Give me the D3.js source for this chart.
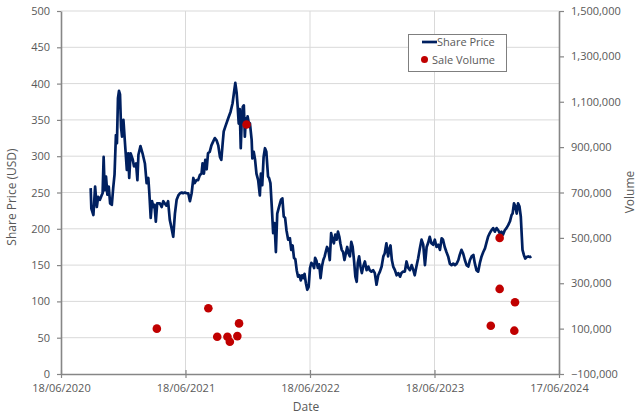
<!DOCTYPE html>
<html>
<head>
<meta charset="utf-8">
<script src="https://cdn.jsdelivr.net/npm/d3@7"></script>
<style>
  html, body { margin: 0; padding: 0; background: #fff; }
  svg { display: block; font-family: "Open Sans", "Noto Sans", sans-serif; }
</style>
</head>
<body>
<svg id="chart" width="640" height="418"></svg>
<script>
// ---------- DATA ----------
const priceDates = [
"2020-09-13","2020-09-15","2020-09-21","2020-09-26","2020-10-01","2020-10-05","2020-10-10","2020-10-15","2020-10-18","2020-10-21",
"2020-10-24","2020-10-28","2020-11-01","2020-11-05","2020-11-09","2020-11-14","2020-11-18","2020-11-22","2020-11-26","2020-11-29",
"2020-12-02","2020-12-05","2020-12-08","2020-12-11","2020-12-14","2020-12-18","2020-12-22","2020-12-28","2021-01-01","2021-01-04",
"2021-01-08","2021-01-14","2021-01-18","2021-01-24","2021-01-28","2021-01-31","2021-02-06","2021-02-12","2021-02-19","2021-02-24",
"2021-03-01","2021-03-04","2021-03-08","2021-03-12","2021-03-16","2021-03-19","2021-03-23","2021-03-27","2021-04-04","2021-04-09",
"2021-04-14","2021-04-18","2021-04-23","2021-04-28","2021-05-03","2021-05-08","2021-05-13","2021-05-18","2021-05-23","2021-05-28",
"2021-06-02","2021-06-07","2021-06-11","2021-06-16","2021-06-21","2021-06-26","2021-07-01","2021-07-06","2021-07-11","2021-07-15",
"2021-07-20","2021-07-25","2021-07-30","2021-08-04","2021-08-07","2021-08-11","2021-08-15","2021-08-19","2021-08-23","2021-08-28",
"2021-09-02","2021-09-07","2021-09-12","2021-09-17","2021-09-22","2021-09-27","2021-10-01","2021-10-05","2021-10-08","2021-10-13",
"2021-10-21","2021-10-28","2021-11-03","2021-11-07","2021-11-11","2021-11-15","2021-11-18","2021-11-21","2021-11-24","2021-11-27",
"2021-11-30","2021-12-03","2021-12-06","2021-12-09","2021-12-12","2021-12-14","2021-12-17","2021-12-20","2021-12-24","2021-12-29",
"2021-12-31","2022-01-04","2022-01-08","2022-01-12","2022-01-17","2022-01-22","2022-01-25","2022-01-29","2022-02-02","2022-02-06",
"2022-02-10","2022-02-15","2022-02-18","2022-02-22","2022-02-26","2022-03-02","2022-03-06","2022-03-10","2022-03-14","2022-03-18",
"2022-03-22","2022-03-25","2022-03-29","2022-04-02","2022-04-06","2022-04-10","2022-04-15","2022-04-20","2022-04-24","2022-04-28",
"2022-05-02","2022-05-06","2022-05-10","2022-05-14","2022-05-18","2022-05-22","2022-05-26","2022-05-30","2022-06-02","2022-06-06",
"2022-06-10","2022-06-14","2022-06-18","2022-06-22","2022-06-26","2022-06-30","2022-07-03","2022-07-07","2022-07-11","2022-07-15",
"2022-07-19","2022-07-23","2022-07-27","2022-07-31","2022-08-03","2022-08-07","2022-08-11","2022-08-15","2022-08-19","2022-08-23",
"2022-08-27","2022-08-31","2022-09-04","2022-09-08","2022-09-12","2022-09-15","2022-09-19","2022-09-23","2022-09-27","2022-10-01",
"2022-10-05","2022-10-09","2022-10-13","2022-10-17","2022-10-21","2022-10-25","2022-10-29","2022-11-02","2022-11-05","2022-11-09",
"2022-11-13","2022-11-17","2022-11-21","2022-11-26","2022-12-01","2022-12-06","2022-12-10","2022-12-15","2022-12-20","2022-12-25",
"2022-12-30","2023-01-04","2023-01-09","2023-01-14","2023-01-19","2023-01-23","2023-01-28","2023-02-02","2023-02-05","2023-02-09",
"2023-02-13","2023-02-17","2023-02-22","2023-02-27","2023-03-04","2023-03-09","2023-03-13","2023-03-18","2023-03-23","2023-03-28",
"2023-04-02","2023-04-07","2023-04-12","2023-04-17","2023-04-21","2023-04-26","2023-05-01","2023-05-06","2023-05-11","2023-05-16",
"2023-05-21","2023-05-26","2023-05-30","2023-06-04","2023-06-09","2023-06-14","2023-06-19","2023-06-24","2023-06-29","2023-07-04",
"2023-07-09","2023-07-13","2023-07-18","2023-07-23","2023-07-28","2023-08-02","2023-08-07","2023-08-12","2023-08-17","2023-08-22",
"2023-08-27","2023-08-31","2023-09-05","2023-09-10","2023-09-15","2023-09-20","2023-09-25","2023-09-30","2023-10-05","2023-10-10",
"2023-10-14","2023-10-19","2023-10-24","2023-10-29","2023-11-03","2023-11-08","2023-11-13","2023-11-18","2023-11-22","2023-11-27",
"2023-12-02","2023-12-07","2023-12-12","2023-12-17","2023-12-22","2023-12-26","2023-12-31","2024-01-05","2024-01-10","2024-01-15",
"2024-01-20","2024-01-25","2024-01-30","2024-02-02","2024-02-06","2024-02-10","2024-02-14","2024-02-18","2024-02-22","2024-02-26",
"2024-02-29","2024-03-02","2024-03-06","2024-03-10","2024-03-14","2024-03-19","2024-03-24","2024-03-28","2024-04-02"
];
const sharePrice = [
256,228,219,258,230,244,240,246,249,299,
253,272,247,258,235,233,256,275,329,318,
380,390,385,340,327,350,322,281,304,270,
304,296,286,290,267,302,314,304,290,263,
270,249,215,238,230,233,210,235,235,230,
238,235,232,238,212,201,189,221,240,246,
249,250,249,250,249,249,238,249,270,263,
267,267,274,276,290,276,295,282,304,306,
315,320,325,322,315,299,295,318,334,341,
352,361,373,387,401,387,368,345,365,311,
351,368,370,327,352,340,355,347,345,322,
297,306,295,276,267,246,276,260,299,311,
306,272,270,263,230,194,208,168,221,228,
235,240,242,217,215,198,185,187,171,177,
160,158,143,134,136,129,136,132,138,125,
116,120,146,153,151,146,160,156,146,151,
132,148,157,162,168,175,171,157,194,185,
180,192,185,196,189,180,171,168,157,166,
175,166,162,182,175,157,134,127,153,162,
148,139,148,155,143,148,143,141,143,139,
123,136,141,148,162,166,180,162,171,177,
157,148,143,136,139,134,139,141,141,155,
146,143,150,143,136,148,159,173,185,178,
150,175,180,189,180,178,185,175,178,171,
187,185,175,168,162,152,150,152,150,152,
157,164,171,166,157,150,148,157,162,164,
153,143,141,153,162,168,173,182,189,194,
198,201,196,201,198,194,196,192,198,201,
205,210,219,221,235,231,221,235,231,217,
189,171,164,159,161,162,161,162
];
const saleDates = ["2021-03-26","2021-08-24","2021-09-19","2021-10-19","2021-10-26","2021-11-17","2021-11-22","2021-12-14",
                   "2023-11-30","2023-12-26","2023-12-26","2024-02-07","2024-02-09"];
const saleVolume = [100000,190000,64000,64000,42000,67000,123000,1000000,
                    113000,500000,275000,91000,216000];
const xTickLabels = ["18/06/2020","18/06/2021","18/06/2022","18/06/2023","17/06/2024"];
const leftTicks = [0,50,100,150,200,250,300,350,400,450,500];
const rightTicks = [-100000,100000,300000,500000,700000,900000,1100000,1300000,1500000];

// ---------- LAYOUT ----------
const svg = d3.select("#chart");
const L = 61, R = 559, T = 11, B = 374;
const parseD = d3.utcParse("%Y-%m-%d");
const parseLbl = d3.utcParse("%d/%m/%Y");
const xTicks = xTickLabels.map(parseLbl);

const x = d3.scaleUtc().domain([xTicks[0], xTicks[xTicks.length-1]]).range([L, R]);
const y = d3.scaleLinear().domain([0, 500]).range([B, T]);
const y2 = d3.scaleLinear().domain([-100000, 1500000]).range([B, T]);

const textCol = "#595959", axisCol = "#868686", gridCol = "#d9d9d9";

// gridlines
svg.append("g").selectAll("line").data(leftTicks.slice(1)).join("line")
  .attr("x1", L).attr("x2", R).attr("y1", d => y(d)).attr("y2", d => y(d))
  .attr("stroke", gridCol).attr("stroke-width", 1);
svg.append("g").selectAll("line").data(xTicks.slice(1, -1)).join("line")
  .attr("x1", d => x(d)).attr("x2", d => x(d)).attr("y1", T).attr("y2", B)
  .attr("stroke", gridCol).attr("stroke-width", 1);

// axes
const fmtDate = d3.utcFormat("%d/%m/%Y");
const gx = svg.append("g").attr("transform", `translate(0,${B})`)
  .call(d3.axisBottom(x).tickValues(xTicks).tickFormat(fmtDate).tickSizeInner(4).tickSizeOuter(0).tickPadding(6));
gx.selectAll(".tick line").attr("y1", -4);
const gl = svg.append("g").attr("transform", `translate(${L},0)`)
  .call(d3.axisLeft(y).tickValues(leftTicks).tickSizeInner(4).tickSizeOuter(0).tickPadding(7));
const gr = svg.append("g").attr("transform", `translate(${R},0)`)
  .call(d3.axisRight(y2).tickValues(rightTicks).tickFormat(d3.format(",")).tickSizeInner(5).tickSizeOuter(0).tickPadding(7));
[gx, gl, gr].forEach(g => {
  g.select(".domain").attr("stroke", axisCol).attr("stroke-width", 1.6);
  g.selectAll(".tick line").attr("stroke", axisCol).attr("stroke-width", 1.2);
  g.selectAll(".tick text").attr("fill", textCol).style("font-size", "11px")
    .style("font-family", "'Open Sans', 'Noto Sans', sans-serif");
});

// price line
const pts = priceDates.map((d, i) => ({ date: parseD(d), v: sharePrice[i] }));
svg.append("path").datum(pts)
  .attr("fill", "none").attr("stroke", "#002060").attr("stroke-width", 2.7)
  .attr("stroke-linejoin", "round")
  .attr("d", d3.line().x(d => x(d.date)).y(d => y(d.v)));

// sale volume dots
const sales = saleDates.map((d, i) => ({ date: parseD(d), v: saleVolume[i] }));
svg.append("g").selectAll("circle").data(sales).join("circle")
  .attr("cx", d => x(d.date)).attr("cy", d => y2(d.v)).attr("r", 4.3)
  .attr("fill", "#c00000");

// axis titles
svg.append("text").attr("x", (L + R) / 2 - 4).attr("y", 411).attr("text-anchor", "middle")
  .attr("fill", textCol).style("font-size", "12px").text("Date");
svg.append("text").attr("transform", `translate(16,197) rotate(-90)`).attr("text-anchor", "middle")
  .attr("fill", textCol).style("font-size", "12px").text("Share Price (USD)");
svg.append("text").attr("transform", `translate(634,192) rotate(-90)`).attr("text-anchor", "middle")
  .attr("fill", textCol).style("font-size", "12px").text("Volume");

// legend
const lg = svg.append("g");
lg.append("rect").attr("x", 408.5).attr("y", 34.5).attr("width", 98).attr("height", 37)
  .attr("fill", "#fff").attr("stroke", "#7f7f7f").attr("stroke-width", 1);
lg.append("line").attr("x1", 422).attr("x2", 437).attr("y1", 42).attr("y2", 42)
  .attr("stroke", "#002060").attr("stroke-width", 2.7);
lg.append("text").attr("x", 437).attr("y", 46).attr("fill", textCol).style("font-size", "11px").text("Share Price");
lg.append("circle").attr("cx", 424.5).attr("cy", 59.5).attr("r", 3.5).attr("fill", "#c00000");
lg.append("text").attr("x", 432).attr("y", 63.5).attr("fill", textCol).style("font-size", "11px").text("Sale Volume");
</script>
</body>
</html>
